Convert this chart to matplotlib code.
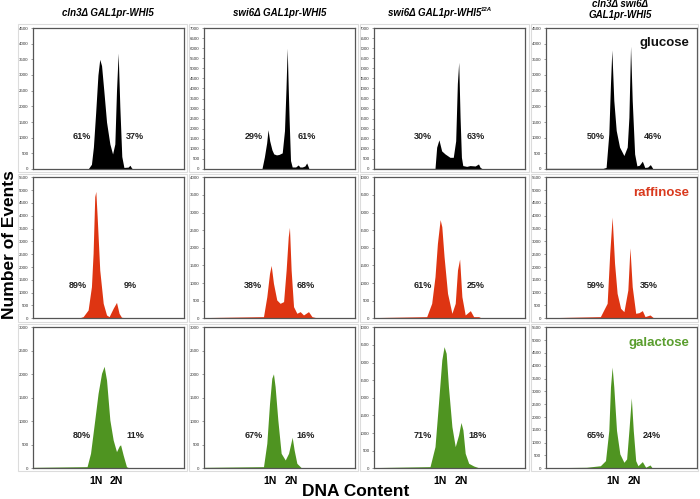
import matplotlib
matplotlib.use("Agg")
import matplotlib.pyplot as plt
from matplotlib.patches import Rectangle

plt.rcParams['font.family'] = ['Liberation Sans', 'DejaVu Sans']

# column titles and media (rows)
strains = ["cln3Δ GAL1pr-WHI5", "swi6Δ GAL1pr-WHI5", "swi6Δ GAL1pr-WHI5", "cln3Δ swi6Δ\nGAL1pr-WHI5"]
media = ["glucose", "raffinose", "galactose"]
media_colors = ["#000000", "#de3512", "#4f9421"]
label_colors = ["#111111", "#d93a1e", "#5a9e2e"]

# y-axis maxima per row, per column
ymax = [[4500, 7000, 7000, 4500],
        [5500, 4000, 4000, 5500],
        [3000, 3000, 4000, 5500]]

# percent of cells in 1N / 2N
pct_1n = [["61%", "29%", "30%", "50%"],
          ["89%", "38%", "61%", "59%"],
          ["80%", "67%", "71%", "65%"]]
pct_2n = [["37%", "61%", "63%", "46%"],
          ["9%", "68%", "25%", "35%"],
          ["11%", "16%", "18%", "24%"]]
pct_1n_x = [[0.32, 0.327, 0.326, 0.333],
            [0.294, 0.327, 0.326, 0.329],
            [0.32, 0.327, 0.326, 0.329]]
pct_2n_x = [[0.675, 0.68, 0.676, 0.71],
            [0.646, 0.676, 0.676, 0.684],
            [0.675, 0.676, 0.685, 0.70]]

# histogram traces: x = % of channel range, y = number of events
glu_cln3_x = [0, 36.5, 38.7, 40, 41.5, 43, 44.2, 45.4, 46.9, 48.7, 50.9, 52.7, 54.2, 55.3, 56.4, 57.5, 58.8, 60.2, 63, 64.2, 65.3, 66.4, 100]
glu_cln3_y = [0, 0, 150, 700, 1800, 3000, 3500, 3300, 2500, 1500, 800, 480, 800, 2500, 3700, 2000, 400, 50, 60, 120, 30, 0, 0]
glu_swi6_x = [0, 38.4, 40, 41.5, 42.4, 43.5, 45, 46.2, 48, 49.6, 51.8, 53.3, 54.3, 55.1, 55.8, 56.4, 57.3, 58.4, 60.7, 62.4, 63.5, 65.1, 66.8, 68, 69.6, 100]
glu_swi6_y = [20, 20, 600, 1300, 1950, 1400, 950, 750, 700, 720, 800, 1900, 4000, 6000, 4000, 2400, 420, 100, 100, 200, 100, 100, 150, 300, 0, 0]
glu_12a_x = [0, 40.4, 41.5, 43, 44.8, 47, 50.3, 52.5, 54.1, 55.2, 56.1, 57, 57.9, 58.8, 61.4, 63.6, 67, 69.2, 70.3, 72, 100]
glu_12a_y = [30, 30, 1080, 1450, 900, 750, 580, 580, 1400, 4240, 5300, 2580, 580, 170, 130, 170, 150, 250, 80, 0, 0]
glu_dbl_x = [0, 38, 40, 41.8, 42.9, 43.8, 45.1, 46.7, 48.9, 51.8, 54, 55.1, 56.2, 57.3, 58.9, 60.4, 62, 64, 65.6, 67.5, 69.3, 71.1, 100]
glu_dbl_y = [20, 20, 50, 1120, 2725, 3800, 2190, 1230, 700, 430, 700, 1650, 3920, 2190, 480, 100, 120, 250, 50, 60, 140, 0, 0]

raf_cln3_x = [0, 29.9, 33.2, 36.5, 38.7, 39.8, 40.9, 41.6, 42.5, 44.2, 46.5, 48.7, 50.4, 53.1, 55.3, 57, 58.6, 64.2, 100]
raf_cln3_y = [0, 0, 65, 325, 1235, 2535, 4745, 4950, 3960, 1885, 585, 130, 65, 390, 620, 195, 40, 0, 0]
raf_swi6_x = [0, 39.4, 41.6, 43.4, 44.5, 46, 48.2, 50.4, 52.7, 54.4, 55.8, 56.6, 57.7, 59.3, 61.5, 63.7, 65.9, 69.2, 71.5, 75.9, 100]
raf_swi6_y = [20, 47, 615, 1277, 1500, 993, 520, 425, 473, 1371, 2316, 2580, 1371, 331, 142, 189, 95, 189, 47, 0, 0]
raf_12a_x = [0, 34.9, 38.2, 40.4, 42, 43.8, 44.9, 46.4, 48.7, 51.6, 53.8, 55.3, 56.7, 58.2, 60.4, 63.8, 66, 69.3, 71.6, 100]
raf_12a_y = [20, 47, 425, 1182, 2128, 2800, 2600, 1750, 709, 142, 425, 1371, 1680, 615, 95, 217, 47, 47, 0, 0]
raf_dbl_x = [0, 36.2, 40.7, 42.4, 44, 45.6, 47.3, 49.6, 51.8, 54.4, 55.8, 57.3, 59.6, 61.8, 64, 65.8, 69.1, 71.8, 100]
raf_dbl_y = [20, 65, 585, 2535, 3950, 2145, 975, 390, 260, 1105, 2750, 1235, 195, 220, 300, 65, 130, 0, 0]

gal_cln3_x = [0, 35.8, 38.1, 40.9, 43.1, 45.4, 47.1, 48.7, 50.9, 53.1, 55.3, 57.1, 58, 59.7, 61.9, 64.2, 100]
gal_cln3_y = [20, 35, 320, 1028, 1596, 2021, 2170, 1879, 1028, 603, 355, 475, 500, 284, 35, 0, 0]
gal_swi6_x = [0, 39.4, 41.6, 43.4, 44.9, 46, 47.1, 48.9, 51.1, 53.8, 56, 57.5, 58.4, 59.7, 61.5, 64.8, 100]
gal_swi6_y = [20, 35, 532, 1383, 1915, 2010, 1738, 1028, 319, 177, 319, 532, 660, 390, 106, 0, 0]
gal_12a_x = [0, 37.1, 40.4, 42.7, 44.9, 46.4, 47.8, 49.3, 51.6, 53.8, 56, 57.6, 58.9, 60.4, 62.7, 66, 70.4, 100]
gal_12a_y = [20, 47, 615, 1844, 3073, 3450, 3262, 2316, 1182, 615, 946, 1300, 1087, 425, 142, 66, 0, 0]
gal_dbl_x = [0, 27, 36.2, 39.6, 41.8, 42.9, 44, 45.1, 46.9, 49.1, 51.8, 53.6, 55.1, 56.7, 58, 59.6, 61.1, 64, 66.2, 69.1, 70.7, 100]
gal_dbl_y = [20, 40, 100, 300, 1476, 3174, 3950, 3174, 1476, 562, 235, 366, 1476, 2750, 1476, 300, 100, 261, 40, 130, 0, 0]

traces = [[(glu_cln3_x, glu_cln3_y), (glu_swi6_x, glu_swi6_y), (glu_12a_x, glu_12a_y), (glu_dbl_x, glu_dbl_y)],
          [(raf_cln3_x, raf_cln3_y), (raf_swi6_x, raf_swi6_y), (raf_12a_x, raf_12a_y), (raf_dbl_x, raf_dbl_y)],
          [(gal_cln3_x, gal_cln3_y), (gal_swi6_x, gal_swi6_y), (gal_12a_x, gal_12a_y), (gal_dbl_x, gal_dbl_y)]]

# 1N / 2N marker positions (axes fraction) under the bottom row
n1_x = [0.42, 0.44, 0.437, 0.447]
n2_x = [0.55, 0.58, 0.58, 0.589]

W, H = 700, 499
fig = plt.figure(figsize=(7, 4.99), dpi=100)

col_left = [33, 204, 374, 545.7]
row_top = [28, 177.3, 327.3]
ax_w, ax_h = 151, 141

# light grey frame around each panel cell
cell_x = [17, 188, 359, 530, 699]
cell_y = [23, 173, 323, 472]
for i in range(3):
    for j in range(4):
        fig.patches.append(Rectangle((cell_x[j] / W + 0.0015, 1 - cell_y[i + 1] / H + 0.002),
                                     (cell_x[j + 1] - cell_x[j]) / W - 0.003,
                                     (cell_y[i + 1] - cell_y[i]) / H - 0.004,
                                     transform=fig.transFigure, fill=False,
                                     edgecolor='#dcdcdc', lw=0.8, zorder=0))

for i in range(3):
    for j in range(4):
        ax = fig.add_axes([col_left[j] / W, 1 - (row_top[i] + ax_h) / H, ax_w / W, ax_h / H])
        xs, ys = traces[i][j]
        ax.fill_between(xs, 0, ys, color=media_colors[i], lw=0)
        ax.set_xlim(0, 100)
        ax.set_ylim(0, ymax[i][j])
        ax.set_yticks(range(0, ymax[i][j] + 1, 500))
        ax.set_xticks([])
        ax.tick_params(axis='y', labelsize=3.2, length=1.2, width=0.4, pad=2,
                       colors='#555555', labelcolor='#333333')
        for s in ax.spines.values():
            s.set_color('#555555')
            s.set_linewidth(0.9)
        ax.text(pct_1n_x[i][j], 0.234, pct_1n[i][j], transform=ax.transAxes,
                ha='center', va='center', fontsize=6.5, fontweight='bold', color='#222222')
        ax.text(pct_2n_x[i][j], 0.234, pct_2n[i][j], transform=ax.transAxes,
                ha='center', va='center', fontsize=6.5, fontweight='bold', color='#222222')
        if j == 3:
            ax.text(0.949, 0.87, media[i], transform=ax.transAxes, ha='right', va='baseline',
                    fontsize=9.5, fontweight='bold', color=label_colors[i])
        if i == 2:
            ax.text(n1_x[j], -0.09, "1N", transform=ax.transAxes, ha='center', va='center',
                    fontsize=7.5, fontweight='bold')
            ax.text(n2_x[j], -0.09, "2N", transform=ax.transAxes, ha='center', va='center',
                    fontsize=7.5, fontweight='bold')

# column titles
title_x = [108, 280, 435, 620]
for j, t in enumerate(strains):
    if j == 3:
        fig.text(title_x[j] / W, 1 - 9.5 / H, t, ha='center', va='center', fontsize=7,
                 fontweight='bold', style='italic', linespacing=1.05)
    else:
        txt = fig.text(title_x[j] / W, 1 - 13 / H, t, ha='center', va='center', fontsize=7,
                       fontweight='bold', style='italic')
        if j == 2:
            fig.add_artist(plt.Annotation("12A", xy=(0.995, 0.62), xycoords=txt, fontsize=4.3,
                                          fontweight='bold', style='italic', va='bottom', ha='left'))

fig.text(10 / W, 1 - 245 / H, "Number of Events", rotation=90, ha='center', va='center',
         fontsize=12.5, fontweight='bold')
fig.text(356 / W, 1 - 492 / H, "DNA Content", ha='center', va='center',
         fontsize=12.5, fontweight='bold')

fig.savefig("out.png", dpi=100)
